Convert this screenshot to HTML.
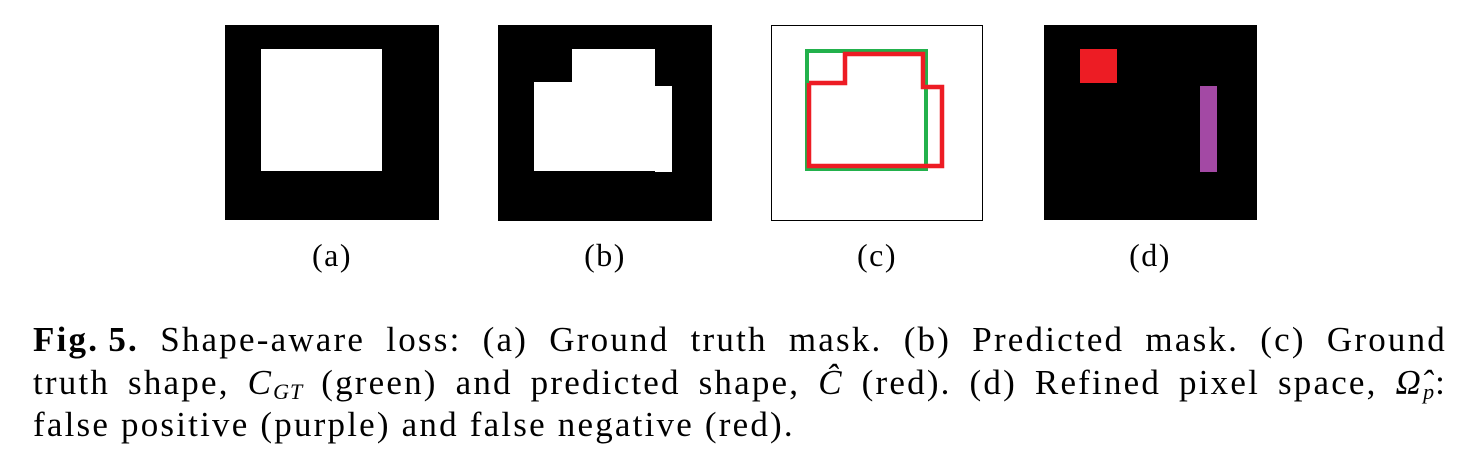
<!DOCTYPE html>
<html><head><meta charset="utf-8"><style>
body{margin:0;width:1460px;height:456px;background:#fff;position:relative;overflow:hidden;font-family:"Liberation Serif",serif;color:#000}
.lbl{position:absolute;top:237px;font-size:32px;width:100px;text-align:center;letter-spacing:1.5px}
.ln{position:absolute;left:33px;width:1414px;font-size:35px;letter-spacing:2.2px;line-height:42px;text-align:justify;text-align-last:justify;white-space:nowrap}
.ln3{text-align-last:left}
i{font-style:italic}
sub{font-size:22px;vertical-align:-5px;line-height:0;letter-spacing:1px}
</style></head><body>
<svg width="1460" height="230" style="position:absolute;left:0;top:0">
  <g>
    <rect x="225" y="25" width="214" height="195" fill="#000"/>
    <rect x="261" y="49" width="121" height="122" fill="#fff"/>
  </g>
  <g>
    <rect x="498" y="25" width="214" height="196" fill="#000"/>
    <rect x="572" y="49" width="83" height="34" fill="#fff"/>
    <rect x="534" y="82" width="121" height="89" fill="#fff"/>
    <rect x="655" y="86" width="17" height="86" fill="#fff"/>
  </g>
  <g>
    <rect x="771.5" y="25.5" width="211" height="195" fill="#fff" stroke="#000" stroke-width="1"/>
    <rect x="807" y="51" width="119" height="118" fill="none" stroke="#22b14c" stroke-width="4"/>
    <polyline points="809,83 845,83 845,54 923,54 923,87 942,87 942,166 809,166 809,83" fill="none" stroke="#ed1c24" stroke-width="4.5"/>
  </g>
  <g>
    <rect x="1044" y="25" width="213" height="195" fill="#000"/>
    <rect x="1080" y="49" width="37" height="34" fill="#ed1c24"/>
    <rect x="1200" y="86" width="17" height="86" fill="#a349a4"/>
  </g>
</svg>
<div class="lbl" style="left:282px">(a)</div>
<div class="lbl" style="left:555px">(b)</div>
<div class="lbl" style="left:827px">(c)</div>
<div class="lbl" style="left:1100px">(d)</div>
<div class="ln" style="top:319px"><b>Fig.&#8239;5.</b> Shape-aware loss: (a) Ground truth mask. (b) Predicted mask. (c) Ground</div>
<div class="ln" style="top:362px">truth shape, <i>C</i><sub><i>GT</i></sub> (green) and predicted shape, <i>Ĉ</i> (red). (d) Refined pixel space, <i>Ω̂</i><sub><i>p</i></sub>:</div>
<div class="ln ln3" style="top:404px">false positive (purple) and false negative (red).</div>
</body></html>
